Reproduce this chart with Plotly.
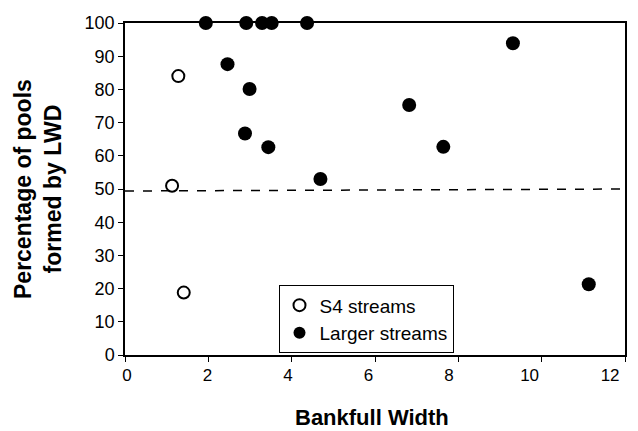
import plotly.graph_objects as go

# S4 streams (open circles)
s4_width = [1.28, 1.13, 1.41]
s4_pct = [84.0, 51.0, 18.8]

# Larger streams (filled circles)
large_width = [1.94, 2.91, 3.29, 3.52, 4.37, 2.46, 2.99, 2.88, 3.44, 4.69, 9.31, 6.82, 7.64, 11.13]
large_pct = [100, 100, 100, 100, 100, 87.6, 80.1, 66.7, 62.6, 53.0, 93.9, 75.3, 62.7, 21.3]

ref_x = [0, 12]
ref_y = [49.4, 50.0]

x_ticks = [0, 2, 4, 6, 8, 10, 12]
y_ticks = [0, 10, 20, 30, 40, 50, 60, 70, 80, 90, 100]

fig = go.Figure()
fig.add_trace(go.Scatter(x=ref_x, y=ref_y, mode="lines", showlegend=False,
                         line=dict(color="black", width=1.5, dash="dash"), hoverinfo="skip",
                         cliponaxis=False))
fig.add_trace(go.Scatter(x=s4_width, y=s4_pct, mode="markers", name="S4 streams",
                         marker=dict(symbol="circle-open", size=12, color="black", line=dict(width=2)),
                         cliponaxis=False))
fig.add_trace(go.Scatter(x=large_width, y=large_pct, mode="markers", name="Larger streams",
                         marker=dict(symbol="circle", size=14, color="black"),
                         cliponaxis=False))
# empty trace that only activates the tick-label axis
fig.add_trace(go.Scatter(x=x_ticks, y=[None] * len(x_ticks), xaxis="x2", yaxis="y",
                         mode="markers", showlegend=False, hoverinfo="skip"))

font_family = "Liberation Sans, Arial, sans-serif"
# page body has an 8px default margin, so the figure is sized to 630x423
fig.update_layout(
    width=630, height=423,
    margin=dict(l=117, r=13, t=15, b=76),
    paper_bgcolor="white", plot_bgcolor="white",
    font=dict(family=font_family, size=18, color="black"),
    legend=dict(x=0.307, y=0.21, xanchor="left", yanchor="top",
                bordercolor="black", borderwidth=1, bgcolor="white",
                font=dict(size=19), itemsizing="constant", tracegroupgap=0),
    xaxis=dict(range=[0, 12], tickvals=x_ticks, showgrid=False, zeroline=False,
               showline=True, linecolor="black", linewidth=1.5, mirror=True,
               ticks="outside", ticklen=5, tickcolor="black", automargin=False,
               showticklabels=False),
    # label axis: in the reference the tick labels sit slightly compressed toward the left
    xaxis2=dict(range=[-0.05, 12.37], tickvals=x_ticks, overlaying="x", anchor="y", side="bottom",
                showgrid=False, zeroline=False, showline=False, ticks="outside", ticklen=5,
                tickcolor="rgba(0,0,0,0)", automargin=False, tickfont=dict(size=17)),
    yaxis=dict(range=[0, 100], tickvals=y_ticks, showgrid=False, zeroline=False,
               showline=True, linecolor="black", linewidth=1.5, mirror=True,
               ticks="outside", ticklen=5, tickcolor="black", automargin=False,
               tickfont=dict(size=18)),
    annotations=[
        dict(text="<b>Bankfull Width</b>", xref="paper", yref="paper", x=0.494, y=-0.187,
             xanchor="center", yanchor="middle", showarrow=False, font=dict(size=22)),
        dict(text="<b>Percentage of pools<br>formed by LWD</b>", xref="paper", yref="paper",
             x=-0.174, y=0.5, xanchor="center", yanchor="middle", showarrow=False,
             textangle=-90, font=dict(size=23)),
    ],
)
fig.write_html("out.html")
